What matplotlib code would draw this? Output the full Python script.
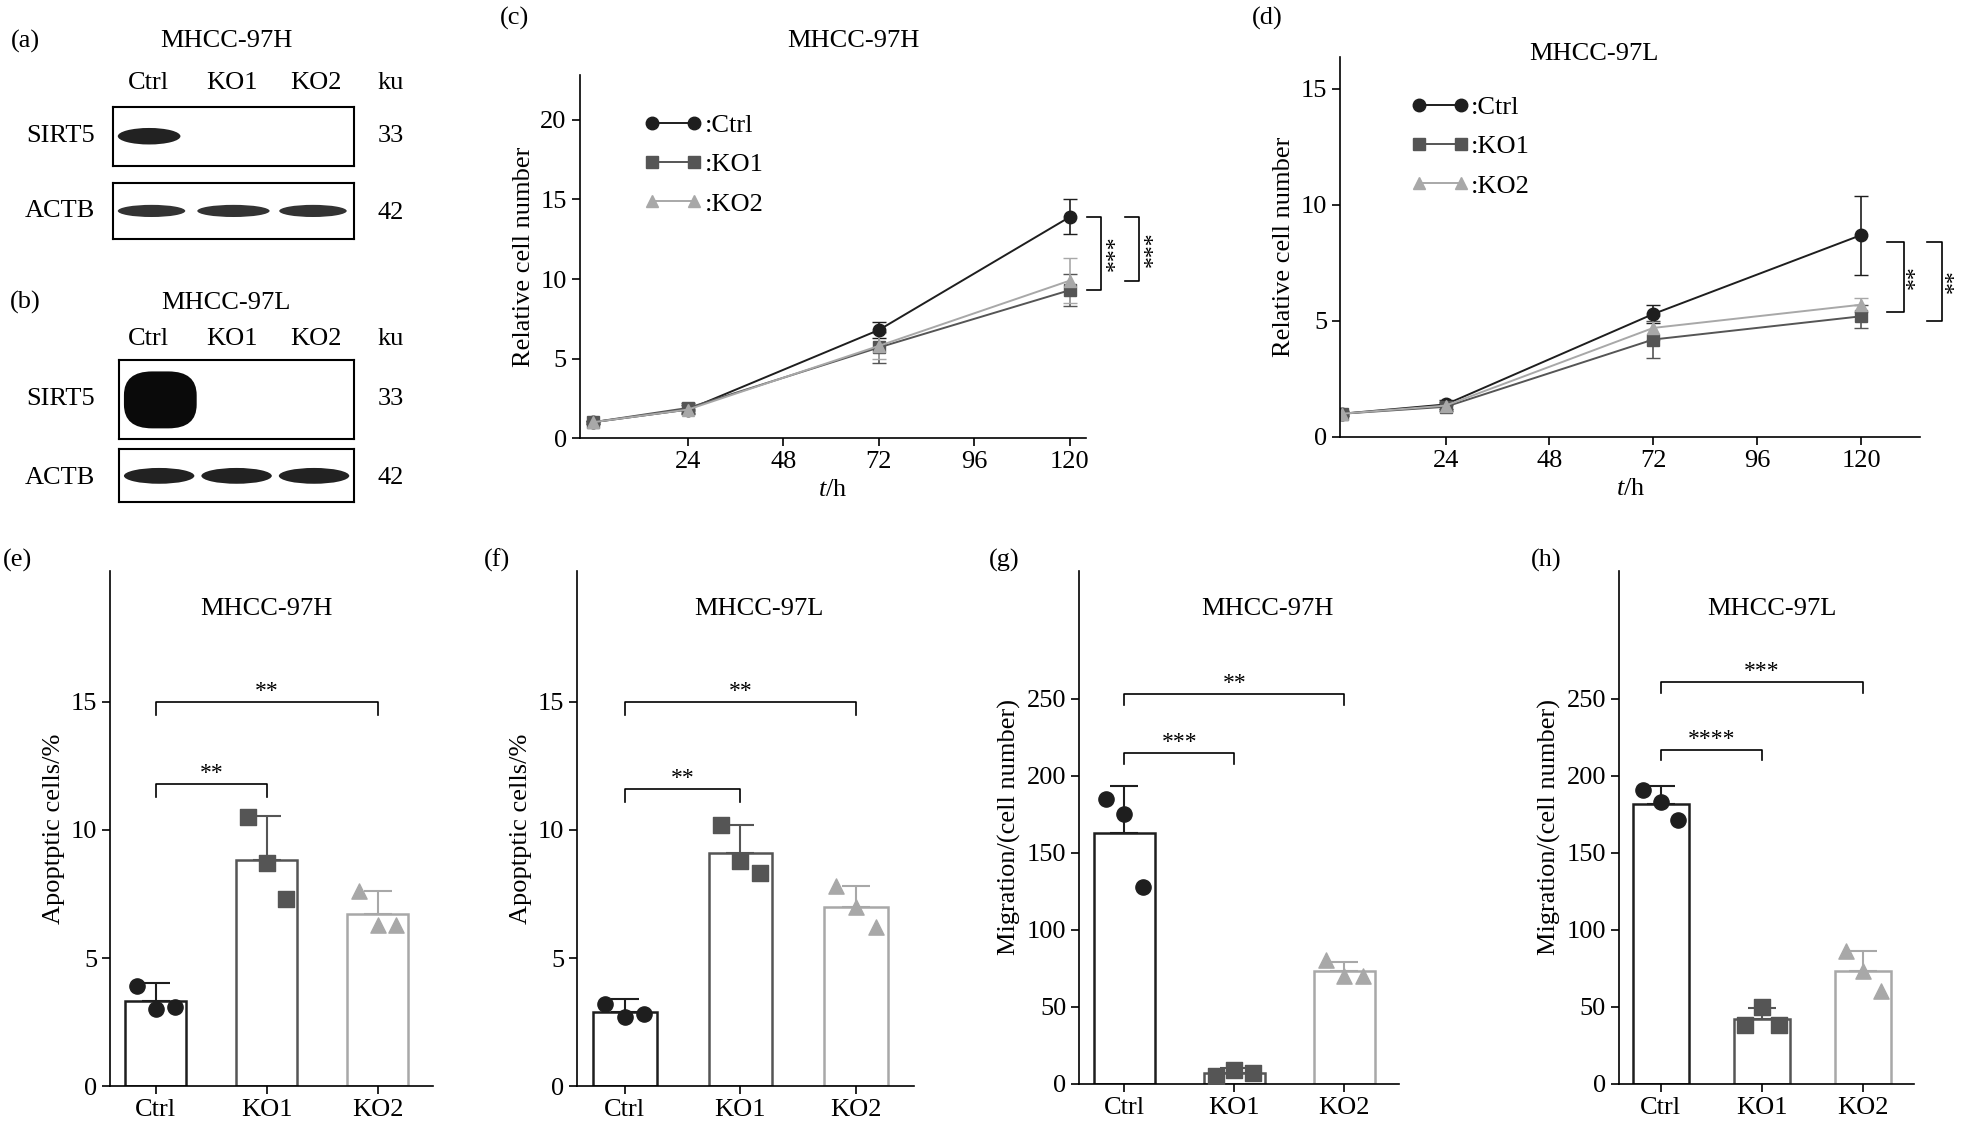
import matplotlib.pyplot as plt
import numpy as np
from matplotlib.patches import Ellipse, FancyBboxPatch
from matplotlib.lines import Line2D

plt.rcParams['font.family'] = ['Liberation Serif', 'DejaVu Serif']
plt.rcParams['font.size'] = 19
plt.rcParams['mathtext.fontset'] = 'custom'
plt.rcParams['mathtext.rm'] = 'Liberation Serif'
plt.rcParams['mathtext.it'] = 'Liberation Serif:italic'

W, H = 1568.0, 900.0
C_CTRL, C_KO1, C_KO2 = '#1e1e1e', '#555555', '#a8a8a8'
colors = [C_CTRL, C_KO1, C_KO2]
groups = ['Ctrl', 'KO1', 'KO2']

# growth curves
hours = [0, 24, 72, 120]
c_mean = {'Ctrl': [1, 1.8, 6.8, 13.9], 'KO1': [1, 1.9, 5.7, 9.3], 'KO2': [1, 1.8, 5.8, 9.9]}
c_err = {'Ctrl': [0.1, 0.3, 0.5, 1.1], 'KO1': [0.1, 0.3, 1.0, 1.0], 'KO2': [0.1, 0.3, 0.8, 1.4]}
d_mean = {'Ctrl': [1, 1.4, 5.3, 8.7], 'KO1': [1, 1.3, 4.2, 5.2], 'KO2': [1, 1.35, 4.7, 5.7]}
d_err = {'Ctrl': [0.1, 0.2, 0.4, 1.7], 'KO1': [0.1, 0.2, 0.8, 0.5], 'KO2': [0.1, 0.2, 0.5, 0.3]}

# bar panels: points per group
e_pts = [[3.9, 3.0, 3.1], [10.5, 8.7, 7.3], [7.6, 6.3, 6.3]]
e_sd = [0.7, 1.7, 0.9]
f_pts = [[3.2, 2.7, 2.8], [10.2, 8.8, 8.3], [7.8, 7.0, 6.2]]
f_sd = [0.5, 1.1, 0.8]
g_pts = [[185, 175, 128], [5, 9, 7], [80, 70, 70]]
g_sd = [31, 3, 6]
h_pts = [[191, 183, 171], [38, 50, 38], [86, 73, 60]]
h_sd = [12, 7, 13]

fig = plt.figure(figsize=(19.68, 11.3), dpi=100)


def rect(x0, x1, y0, y1):
    return [x0 / W, 1 - y1 / H, (x1 - x0) / W, (y1 - y0) / H]


def ft(x, y, s, **kw):
    kw.setdefault('ha', 'center')
    kw.setdefault('va', 'center')
    fig.text(x / W, 1 - y / H, s, **kw)


def style(ax):
    ax.spines['top'].set_visible(False)
    ax.spines['right'].set_visible(False)
    ax.tick_params(direction='out', length=6, width=1.2)
    for s in ax.spines.values():
        s.set_linewidth(1.2)


# ---- western blots ----
def blot(box, bands):
    ax = fig.add_axes(rect(*box))
    ax.set_xlim(0, 1)
    ax.set_ylim(0, 1)
    ax.set_xticks([])
    ax.set_yticks([])
    for s in ax.spines.values():
        s.set_linewidth(1.5)
    for (cx, w, h, c) in bands:
        ax.add_patch(Ellipse((cx, 0.5), w, h, color=c, lw=0))


def blob(box, x0, w, h):
    ax = fig.add_axes(rect(*box))
    ax.set_xlim(0, 1)
    ax.set_ylim(0, 1)
    ax.set_xticks([])
    ax.set_yticks([])
    for s in ax.spines.values():
        s.set_linewidth(1.5)
    ax.add_patch(FancyBboxPatch((x0, 0.5 - h / 2), w, h, boxstyle='round,pad=0,rounding_size=0.12',
                                color='#0a0a0a', lw=0, mutation_aspect=2.5))


ft(20, 33, '(a)')
ft(180, 33, 'MHCC-97H')
for x, s in zip([118, 185, 252, 311], ['Ctrl', 'KO1', 'KO2', 'ku']):
    ft(x, 66, s)
blot((90, 282, 85, 132), [(0.15, 0.26, 0.28, '#222222')])
blot((90, 282, 146, 190), [(0.16, 0.28, 0.22, '#333333'), (0.5, 0.3, 0.22, '#333333'), (0.83, 0.28, 0.22, '#333333')])
ft(48, 108, 'SIRT5')
ft(48, 168, 'ACTB')
ft(311, 108, '33')
ft(311, 170, '42')

ft(20, 241, '(b)')
ft(180, 241, 'MHCC-97L')
for x, s in zip([118, 185, 252, 311], ['Ctrl', 'KO1', 'KO2', 'ku']):
    ft(x, 270, s)
blob((95, 282, 287, 350), 0.02, 0.31, 0.72)
blot((95, 282, 358, 400), [(0.17, 0.3, 0.3, '#222222'), (0.5, 0.3, 0.3, '#222222'), (0.83, 0.3, 0.3, '#222222')])
ft(48, 318, 'SIRT5')
ft(48, 381, 'ACTB')
ft(311, 318, '33')
ft(311, 381, '42')


# ---- growth curves ----
def growth(box, mean, err, xlim, ylim, yticks, br):
    ax = fig.add_axes(rect(*box))
    style(ax)
    handles = []
    for g, c, m in zip(groups, colors, ['o', 's', '^']):
        ax.errorbar(hours, mean[g], yerr=err[g], color=c, marker=m, ms=9, lw=1.4,
                    capsize=5, elinewidth=1.2)
        handles.append(Line2D([0], [0], color=c, marker=m, ms=9, lw=1.4, label=':' + g))
    ax.set_xlim(*xlim)
    ax.set_ylim(*ylim)
    ax.set_xticks([24, 48, 72, 96, 120])
    ax.set_yticks(yticks)
    ax.set_xlabel('$t$/h')
    ax.set_ylabel('Relative cell number')
    ax.legend(handles=handles, loc='upper left', frameon=False, handlelength=2.2, handletextpad=0.1,
              numpoints=2, bbox_to_anchor=(0.08, 0.96), labelspacing=0.6)
    for (x0, x1, y0, y1, sx, s) in br:
        ax.plot([x0, x1, x1, x0], [y0, y0, y1, y1], color='k', lw=1.2, clip_on=False)
        ax.text(sx, (y0 + y1) / 2, s, rotation=90, ha='center', va='center', fontsize=17)
    return ax


ft(410, 15, '(c)')
ft(680, 33, 'MHCC-97H')
growth((462, 865, 60, 349), c_mean, c_err, (-3.2, 124), (0, 22.8), [0, 5, 10, 15, 20],
       [(124.4, 127.9, 13.9, 9.3, 131.5, '***'), (134, 137.4, 13.9, 9.9, 141, '***')])
ft(1010, 15, '(d)')
ft(1270, 43, 'MHCC-97L')
growth((1068, 1530, 45, 348), d_mean, d_err, (-0.3, 133.7), (0, 16.4), [0, 5, 10, 15],
       [(125.9, 130, 8.4, 5.4, 132.5, '**'), (135.2, 138.6, 8.4, 5.0, 141.5, '**')])


# ---- bar panels ----
def barpanel(box, pts, sd, ylim, yticks, ylabel, br, tick_len):
    ax = fig.add_axes(rect(*box))
    style(ax)
    means = [np.mean(p) for p in pts]
    x = np.arange(3)
    ax.bar(x, means, width=0.55, facecolor='white', edgecolor=colors, linewidth=1.8)
    for i in range(3):
        ax.errorbar(x[i], means[i], yerr=[[0], [sd[i]]], color=colors[i], capsize=10,
                    elinewidth=1.5, capthick=1.5)
        ax.scatter(x[i] + np.array([-0.17, 0.0, 0.17]), pts[i], color=colors[i],
                   marker=['o', 's', '^'][i], s=120, zorder=3)
    ax.set_xlim(-0.41, 2.5)
    ax.set_ylim(*ylim)
    ax.set_xticks(x)
    ax.set_xticklabels(groups)
    ax.set_yticks(yticks)
    ax.set_ylabel(ylabel)
    for (a, b, y, s) in br:
        ax.plot([a, a, b, b], [y - tick_len, y, y, y - tick_len], color='k', lw=1.2)
        ax.text((a + b) / 2, y, s, ha='center', va='bottom', fontsize=17)
    return ax


ft(14, 446, '(e)')
ft(212, 485, 'MHCC-97H')
barpanel((88, 345, 455, 865), e_pts, e_sd, (0, 20.1), [0, 5, 10, 15], 'Apoptptic cells/%',
         [(0, 1, 11.8, '**'), (0, 2, 15.0, '**')], 0.5)
ft(396, 446, '(f)')
ft(605, 485, 'MHCC-97L')
barpanel((460, 728, 455, 865), f_pts, f_sd, (0, 20.1), [0, 5, 10, 15], 'Apoptptic cells/%',
         [(0, 1, 11.6, '**'), (0, 2, 15.0, '**')], 0.5)
ft(800, 446, '(g)')
ft(1010, 485, 'MHCC-97H')
barpanel((860, 1115, 455, 863), g_pts, g_sd, (0, 333), [0, 50, 100, 150, 200, 250],
         'Migration/(cell number)', [(0, 1, 215, '***'), (0, 2, 253, '**')], 7)
ft(1232, 446, '(h)')
ft(1412, 485, 'MHCC-97L')
barpanel((1290, 1525, 455, 863), h_pts, h_sd, (0, 333), [0, 50, 100, 150, 200, 250],
         'Migration/(cell number)', [(0, 1, 217, '****'), (0, 2, 261, '***')], 7)

fig.savefig('out.png', dpi=100)
